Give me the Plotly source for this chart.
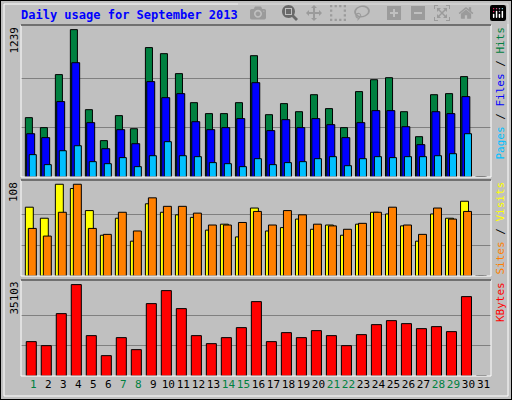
import plotly.graph_objects as go

days = list(range(1, 32))
hits = [499, 415, 861, 1239, 566, 306, 516, 406, 1088, 1037, 869, 625, 533, 533, 625,
        1020, 524, 617, 549, 692, 575, 415, 718, 818, 835, 549, 339, 692, 701, 844, 0]
files = [364, 331, 634, 961, 457, 238, 398, 280, 802, 667, 701, 465, 398, 415, 491,
         793, 390, 482, 415, 491, 440, 331, 457, 558, 558, 423, 272, 549, 533, 676, 0]
pages = [188, 104, 221, 263, 129, 112, 163, 87, 179, 297, 179, 171, 121, 112, 87,
         154, 104, 121, 129, 154, 171, 95, 154, 171, 163, 171, 171, 179, 196, 364, 0]
visits = [81, 68, 108, 103, 77, 48, 68, 41, 85, 75, 72, 69, 54, 61, 46,
          80, 53, 57, 67, 55, 60, 48, 61, 75, 73, 59, 41, 73, 68, 88, 0]
sites = [56, 47, 75, 108, 56, 49, 75, 53, 92, 82, 82, 74, 60, 60, 63,
         76, 60, 77, 72, 61, 59, 55, 62, 75, 81, 60, 49, 80, 67, 76, 0]
kbytes = [13195, 11657, 23955, 35103, 15500, 7814, 14732, 10120, 27799, 32795, 25877, 15500,
          12426, 14732, 18575, 28567, 13195, 16653, 14732, 17422, 15500, 11657, 15885, 19728,
          21265, 20112, 18190, 18959, 17038, 30489, 0]
weekend = [1, 7, 8, 14, 15, 21, 22, 28, 29]

GREEN, BLUE, CYAN = "#008040", "#0000FF", "#00C0FF"
YELLOW, ORANGE, RED = "#FFFF00", "#FF8000", "#FF0000"
BG = "#C0C0C0"
line = dict(color="black", width=1)

fig = go.Figure()

def bars(y, color, offset, width, yaxis):
    fig.add_trace(go.Bar(x=days, y=y, offset=offset, width=width, yaxis=yaxis,
                         marker=dict(color=color, line=line), showlegend=False))

bars(hits, GREEN, -0.53, 0.47, "y")
bars(files, BLUE, -0.44, 0.53, "y")
bars(pages, CYAN, -0.27, 0.47, "y")
bars(visits, YELLOW, -0.53, 0.53, "y2")
bars(sites, ORANGE, -0.33, 0.53, "y2")
bars(kbytes, RED, -0.47, 0.67, "y3")

ticktext = [f"<span style='color:{GREEN}'>{d}</span>" if d in weekend else str(d) for d in days]

def yax(domain, vmax, top):
    return dict(domain=domain, range=[0, top], tickvals=[vmax / 3, 2 * vmax / 3],
                showticklabels=False, ticks="", gridcolor="#808080", gridwidth=1,
                zeroline=False, showline=False, fixedrange=True)

fig.update_layout(
    width=512, height=400, margin=dict(l=0, r=0, t=0, b=0),
    paper_bgcolor=BG, plot_bgcolor=BG, barmode="overlay",
    font=dict(family="DejaVu Sans Mono", size=11, color="black"),
    xaxis=dict(domain=[21 / 512, 491 / 512], range=[0.18, 31.5], tickvals=days,
               ticktext=ticktext, tickangle=0, showgrid=False, zeroline=False, ticks="",
               anchor="y3", tickfont=dict(family="DejaVu Sans Mono", size=11)),
    yaxis=yax([1 - 177 / 400, 1 - 25 / 400], 1239, 1278),
    yaxis2=yax([1 - 276 / 400, 1 - 180 / 400], 108, 113),
    yaxis3=yax([1 - 376 / 400, 1 - 280 / 400], 35103, 36870),
)

# panel frames
for y0, y1 in [(25, 177), (180, 276), (280, 376)]:
    fig.add_shape(type="rect", xref="paper", yref="paper", x0=21 / 512, x1=491 / 512,
                  y0=1 - y1 / 400, y1=1 - y0 / 400, line=dict(color="white", width=1))
    fig.add_shape(type="line", xref="paper", yref="paper", x0=21 / 512, x1=491 / 512,
                  y0=1 - y0 / 400, y1=1 - y0 / 400, line=dict(color="black", width=1))
fig.add_shape(type="rect", xref="paper", yref="paper", x0=0, x1=1, y0=0, y1=1,
              line=dict(color="black", width=2))
fig.add_shape(type="rect", xref="paper", yref="paper", x0=4 / 512, x1=508 / 512,
              y0=4 / 400, y1=396 / 400, line=dict(color="white", width=1))

fig.add_annotation(text="<b>Daily usage for September 2013</b>", xref="paper", yref="paper",
                   x=19 / 512, y=1 - 15 / 400, xanchor="left", yanchor="middle",
                   showarrow=False, font=dict(color=BLUE, size=12))

for label, yp in [("1239", 25), ("108", 180), ("35103", 280)]:
    fig.add_annotation(text=label, xref="paper", yref="paper", x=14 / 512, y=1 - yp / 400,
                       xanchor="center", yanchor="top", textangle=-90, showarrow=False,
                       font=dict(size=11))

for text, ytop in [(f"<span style='color:{CYAN}'>Pages</span> / <span style='color:{BLUE}'>Files</span> / <span style='color:{GREEN}'>Hits</span>", 25),
                   (f"<span style='color:{ORANGE}'>Sites</span> / <span style='color:{YELLOW}'>Visits</span>", 180),
                   (f"<span style='color:{RED}'>KBytes</span>", 280)]:
    fig.add_annotation(text=text, xref="paper", yref="paper", x=500 / 512, y=1 - ytop / 400,
                       xanchor="center", yanchor="top", textangle=-90, showarrow=False,
                       font=dict(size=11, color="black"))

fig.write_html("out.html", post_script="document.body.style.margin='0';")
